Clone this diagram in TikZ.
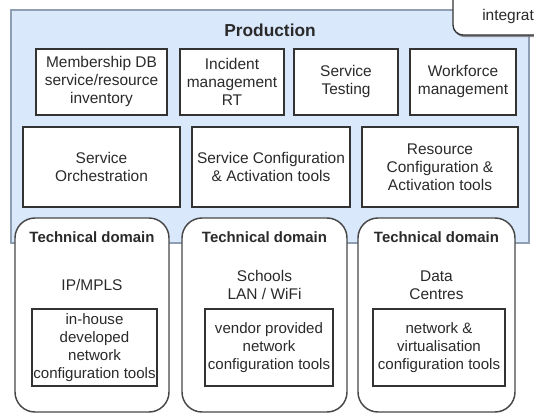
\documentclass[tikz,border=0pt]{standalone}
\usepackage{fontspec}
\setmainfont{Liberation Sans}
\usetikzlibrary{shadows}
\definecolor{prodfill}{HTML}{DAE8FC}
\definecolor{prodline}{HTML}{8E9FB4}
\definecolor{boxline}{HTML}{333333}
\definecolor{txt}{HTML}{2A2A2A}
\begin{document}
\begin{tikzpicture}[x=0.75pt,y=-0.75pt,
  font=\fontsize{11.6}{13.5}\selectfont, text=txt,
  wbox/.style 2 args={draw=boxline, line width=1.1pt, fill=white, align=center,
    inner sep=0pt, minimum width=#1*0.75pt, minimum height=#2*0.75pt},
  tdbox/.style 2 args={draw=boxline!90, line width=1.1pt, fill=white,
    rounded corners=15pt, inner sep=0pt, minimum width=#1*0.75pt, minimum height=#2*0.75pt},
  ttl/.style={font=\fontsize{11.2}{13.5}\selectfont\bfseries, inner sep=0pt},
  lbl/.style={align=center, inner sep=0pt}]
\useasboundingbox (0,0) rectangle (534,413);
\begin{scope}
\clip (0,0) rectangle (534,413);
% Production area
\node[draw=prodline, line width=0.8pt, fill=prodfill, inner sep=0pt,
  minimum width=518*0.75pt, minimum height=233*0.75pt] (prod) at (270,126.5) {};
\node[ttl, font=\fontsize{13}{15}\selectfont\bfseries] (prodt) at (270,30) {Production};
% integration tab
\node[draw=boxline, line width=1pt, fill=white, rounded corners=7.5pt, inner sep=0pt,
  drop shadow={shadow xshift=1pt, shadow yshift=-1.6pt, fill=black!55, opacity=0.8},
  minimum width=150*0.75pt, minimum height=60*0.75pt] (integ) at (528,5) {};
\node[anchor=west, inner sep=0pt] (integt) at (482,17) {integration};
\end{scope}
% Row 1
\node[wbox={131}{66}] (m1) at (101.5,82) {Membership DB\\service/resource\\inventory};
\node[wbox={104}{66}] (m2) at (232,82) {Incident\\management\\RT};
\node[wbox={104}{66}] (m3) at (346,82) {Service\\Testing};
\node[wbox={106}{66}] (m4) at (463,82) {Workforce\\management};
% Row 2
\node[wbox={157}{80}] (r1) at (101.5,167) {Service\\Orchestration};
\node[wbox={158}{80}] (r2) at (271,167) {Service Configuration\\\& Activation tools};
\node[wbox={156}{80}] (r3) at (440,167) {Resource\\Configuration \&\\Activation tools};
% Technical domains
\node[tdbox={154}{194}] (td1) at (92,315) {};
\node[tdbox={165}{194}] (td2) at (264.5,315) {};
\node[tdbox={157}{194}] (td3) at (436.5,315) {};
\node[ttl] (td1t) at (92,237) {Technical domain};
\node[ttl] (td2t) at (264.5,237) {Technical domain};
\node[ttl] (td3t) at (436.5,237) {Technical domain};
\node[lbl] (td1s) at (92,285) {IP/MPLS};
\node[lbl] (td2s) at (264.5,285) {Schools\\LAN / WiFi};
\node[lbl] (td3s) at (436.5,285) {Data\\Centres};
\node[wbox={125}{77}, font=\fontsize{11.3}{13.5}\selectfont] (t1) at (94.5,347.5) {in-house\\developed\\network\\configuration tools};
\node[wbox={128}{77}, font=\fontsize{11.3}{13.5}\selectfont] (t2) at (269,347.5) {vendor provided\\network\\configuration tools};
\node[wbox={132}{77}, font=\fontsize{11.3}{13.5}\selectfont] (t3) at (439,347.5) {network \&\\virtualisation\\configuration tools};
\end{tikzpicture}
\end{document}
